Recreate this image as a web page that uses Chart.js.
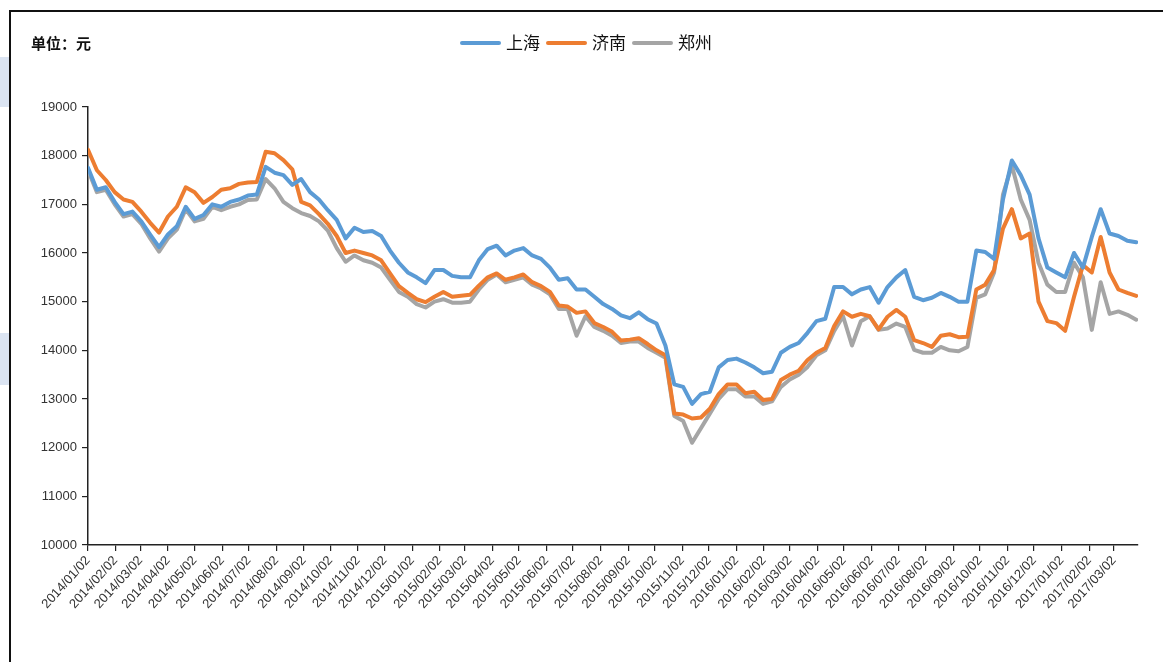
<!DOCTYPE html>
<html>
<head>
<meta charset="utf-8">
<script src="https://cdn.jsdelivr.net/npm/chart.js@4"></script>
<style>
  html,body{margin:0;padding:0;background:#fff;}
  #wrap{width:1163px;height:662px;position:relative;}
</style>
</head>
<body>
<div id="wrap"><canvas id="c" width="1163" height="662"></canvas></div>
<script>
const dates = [
'2014/01/02','2014/01/12','2014/01/22','2014/02/01','2014/02/11','2014/02/21','2014/03/03','2014/03/13','2014/03/23','2014/04/02',
'2014/04/12','2014/04/22','2014/05/02','2014/05/12','2014/05/22','2014/06/01','2014/06/11','2014/06/21','2014/07/01','2014/07/11',
'2014/07/21','2014/07/31','2014/08/10','2014/08/20','2014/08/30','2014/09/09','2014/09/19','2014/09/29','2014/10/09','2014/10/19',
'2014/10/29','2014/11/08','2014/11/18','2014/11/28','2014/12/08','2014/12/18','2014/12/28','2015/01/07','2015/01/17','2015/01/27',
'2015/02/06','2015/02/16','2015/02/26','2015/03/08','2015/03/18','2015/03/28','2015/04/07','2015/04/17','2015/04/27','2015/05/07',
'2015/05/17','2015/05/27','2015/06/06','2015/06/16','2015/06/26','2015/07/06','2015/07/16','2015/07/26','2015/08/05','2015/08/15',
'2015/08/25','2015/09/04','2015/09/14','2015/09/24','2015/10/04','2015/10/14','2015/10/24','2015/11/03','2015/11/13','2015/11/23',
'2015/12/03','2015/12/13','2015/12/23','2016/01/02','2016/01/12','2016/01/22','2016/02/01','2016/02/11','2016/02/21','2016/03/02',
'2016/03/12','2016/03/22','2016/04/01','2016/04/11','2016/04/21','2016/05/01','2016/05/11','2016/05/21','2016/05/31','2016/06/10',
'2016/06/20','2016/06/30','2016/07/10','2016/07/20','2016/07/30','2016/08/09','2016/08/19','2016/08/29','2016/09/08','2016/09/18',
'2016/09/28','2016/10/08','2016/10/18','2016/10/28','2016/11/07','2016/11/17','2016/11/27','2016/12/07','2016/12/17','2016/12/27',
'2017/01/06','2017/01/16','2017/01/26','2017/02/05','2017/02/15','2017/02/25','2017/03/07','2017/03/17','2017/03/27'
];

const shanghai = [
17750,17300,17350,17050,16800,16850,16650,16380,16120,16380,
16550,16950,16700,16780,17000,16950,17050,17100,17180,17200,
17770,17650,17600,17400,17520,17250,17100,16880,16680,16300,
16520,16430,16450,16350,16050,15800,15600,15500,15380,15650,
15650,15530,15500,15500,15850,16080,16150,15950,16050,16100,
15950,15880,15700,15450,15480,15250,15250,15100,14950,14850,
14720,14660,14780,14640,14550,14100,13300,13250,12900,13100,
13150,13650,13800,13830,13750,13650,13530,13560,13950,14070,
14150,14360,14600,14650,15300,15300,15150,15250,15300,14980,
15300,15500,15650,15100,15030,15080,15180,15100,15000,15000,
16050,16020,15880,17100,17900,17600,17200,16300,15700,15600,
15500,16000,15700,16330,16900,16400,16350,16250,16220
];

const jinan = [
18120,17700,17500,17250,17100,17050,16850,16620,16420,16750,
16950,17350,17250,17030,17150,17300,17330,17420,17450,17460,
18080,18050,17910,17720,17050,16980,16800,16600,16350,16000,
16050,16000,15950,15850,15580,15320,15180,15050,14990,15100,
15200,15100,15120,15140,15330,15500,15580,15450,15500,15560,
15400,15320,15200,14920,14900,14770,14800,14560,14480,14380,
14200,14220,14250,14130,14000,13900,12700,12680,12600,12620,
12800,13100,13300,13300,13120,13150,12980,13000,13390,13500,
13580,13800,13950,14050,14500,14800,14690,14750,14700,14430,
14690,14830,14690,14210,14150,14070,14300,14330,14270,14280,
15250,15350,15650,16500,16900,16300,16400,15000,14600,14560,
14400,15100,15750,15600,16330,15600,15250,15180,15120
];

const zhengzhou = [
17700,17250,17300,17000,16750,16800,16600,16300,16030,16300,
16480,16900,16650,16700,16950,16880,16950,17000,17090,17100,
17520,17330,17050,16920,16820,16760,16650,16460,16100,15820,
15950,15850,15800,15700,15450,15200,15100,14950,14880,15000,
15050,14980,14980,15000,15250,15450,15560,15400,15450,15500,
15350,15270,15150,14850,14850,14300,14700,14480,14400,14300,
14150,14180,14180,14050,13950,13850,12650,12550,12100,12400,
12700,13000,13200,13200,13050,13050,12900,12950,13250,13400,
13500,13660,13900,14000,14400,14700,14100,14600,14700,14420,
14450,14550,14480,14010,13950,13950,14070,14000,13980,14070,
15080,15150,15600,17200,17800,17100,16680,15800,15350,15200,
15200,15800,15500,14420,15400,14750,14800,14730,14630
];

const tickLabels = [
'2014/01/02','2014/02/02','2014/03/02','2014/04/02','2014/05/02','2014/06/02','2014/07/02','2014/08/02','2014/09/02','2014/10/02',
'2014/11/02','2014/12/02','2015/01/02','2015/02/02','2015/03/02','2015/04/02','2015/05/02','2015/06/02','2015/07/02','2015/08/02',
'2015/09/02','2015/10/02','2015/11/02','2015/12/02','2016/01/02','2016/02/02','2016/03/02','2016/04/02','2016/05/02','2016/06/02',
'2016/07/02','2016/08/02','2016/09/02','2016/10/02','2016/11/02','2016/12/02','2017/01/02','2017/02/02','2017/03/02'
];

const seriesNames = ['上海','济南','郑州'];
const seriesColors = ['#5B9BD5','#ED7D31','#A5A5A5'];
const yMin = 10000, yMax = 19000, yStep = 1000;
const axisEnd = '2017/03/29';
const unitText = '单位：元';

function dayOf(s){
  const p = s.split('/').map(Number);
  return Math.round((Date.UTC(p[0],p[1]-1,p[2]) - Date.UTC(2014,0,2))/86400000);
}
const labelByDay = {};
tickLabels.forEach(l => labelByDay[dayOf(l)] = l);

function pts(arr){ return dates.map((d,i)=>({x:dayOf(d), y:arr[i]})); }

const decor = {
  id:'decor',
  beforeDraw(chart){
    const ctx = chart.ctx;
    ctx.save();
    ctx.fillStyle = '#fff';
    ctx.fillRect(0,0,chart.width,chart.height);
    ctx.fillStyle = '#dbe4f2';
    ctx.fillRect(0,57,9,50);
    ctx.fillRect(0,333,9,52);
    ctx.strokeStyle = '#111';
    ctx.lineWidth = 2;
    ctx.beginPath();
    ctx.moveTo(10,662); ctx.lineTo(10,11); ctx.lineTo(1163,11);
    ctx.stroke();
    ctx.fillStyle = '#111';
    ctx.font = 'bold 15px "Noto Sans CJK SC"';
    ctx.textBaseline = 'middle';
    ctx.fillText(unitText, 31, 43);
    // legend
    ctx.font = '17px "Noto Sans CJK SC"';
    let x = 460;
    chart.data.datasets.forEach(ds => {
      ctx.strokeStyle = ds.borderColor;
      ctx.lineWidth = 4;
      ctx.lineCap = 'round';
      ctx.beginPath(); ctx.moveTo(x+2,43); ctx.lineTo(x+39,43); ctx.stroke();
      ctx.fillStyle = '#111';
      ctx.fillText(ds.label, x+46, 43);
      x += 46 + ctx.measureText(ds.label).width + 6;
    });
    ctx.restore();
  }
};

new Chart(document.getElementById('c'), {
  type:'line',
  data:{
    datasets:[
      {label:seriesNames[0], data:pts(shanghai), borderColor:seriesColors[0]},
      {label:seriesNames[1], data:pts(jinan), borderColor:seriesColors[1]},
      {label:seriesNames[2], data:pts(zhengzhou), borderColor:seriesColors[2]}
    ]
  },
  options:{
    responsive:false,
    animation:false,
    layout:{padding:{left:0,right:25,top:107,bottom:0}},
    elements:{
      line:{borderWidth:4, tension:0, borderJoinStyle:'round', borderCapStyle:'round'},
      point:{radius:0}
    },
    plugins:{legend:{display:false}, tooltip:{enabled:false}},
    scales:{
      x:{
        type:'linear',
        min:0, max:dayOf(axisEnd),
        afterBuildTicks(scale){ scale.ticks = tickLabels.map(l=>({value:dayOf(l)})); },
        afterFit(scale){ scale.height = 117; },
        grid:{drawOnChartArea:false, drawTicks:true, tickLength:6, color:'#222', lineWidth:1.2},
        border:{color:'#222', width:1.5},
        ticks:{
          autoSkip:false, minRotation:48, maxRotation:48, padding:2,
          font:{family:'"Liberation Sans", Arial', size:13}, color:'#333',
          callback:(v)=>labelByDay[v] || ''
        }
      },
      y:{
        min:yMin, max:yMax,
        afterFit(scale){ scale.width = 88; },
        grid:{drawOnChartArea:false, drawTicks:true, tickLength:6, color:'#222', lineWidth:1.2},
        border:{color:'#222', width:1.5},
        ticks:{stepSize:yStep, padding:5, font:{family:'"Liberation Sans", Arial', size:13}, color:'#333',
          callback:(v)=>String(v)}
      }
    }
  },
  plugins:[decor]
});
</script>
</body>
</html>
